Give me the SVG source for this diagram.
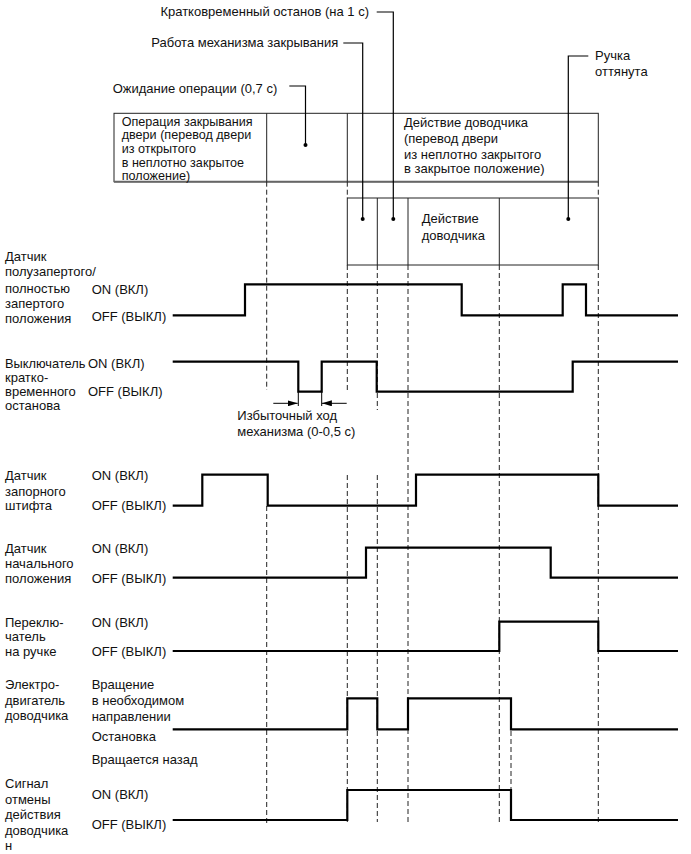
<svg xmlns="http://www.w3.org/2000/svg" width="691" height="854" viewBox="0 0 691 854">
<defs>
<style>
text{font-family:"Liberation Sans",Arial,sans-serif;font-size:13px;fill:#111}
.sm{font-size:12.6px}
.box{fill:none;stroke:#222;stroke-width:1}
.boxb{fill:none;stroke:#666;stroke-width:2}
.lead{fill:none;stroke:#000;stroke-width:1.2}
.dash{fill:none;stroke:#222;stroke-width:1;stroke-dasharray:5,3}
.wave{fill:none;stroke:#000;stroke-width:2.2}
.dim{fill:none;stroke:#000;stroke-width:1}
</style>
<marker id="ah" viewBox="0 0 10 6" refX="10" refY="3" markerWidth="10" markerHeight="6" markerUnits="userSpaceOnUse" orient="auto"><path d="M0,0 L10,3 L0,6 Z" fill="#000"/></marker>
</defs>
<rect width="691" height="854" fill="#fff"/>

<g id="top-box">
<rect class="box" x="114" y="113.3" width="484.3" height="68.4"/>
<line class="boxb" x1="114" y1="181.7" x2="598.3" y2="181.7"/>
<line class="box" x1="266.7" y1="113.3" x2="266.7" y2="181.7"/>
<line class="box" x1="347.3" y1="113.3" x2="347.3" y2="181.7"/>
<text class="sm" x="121.7" y="125.8">Операция закрывания</text>
<text class="sm" x="121.7" y="139.4">двери (перевод двери</text>
<text class="sm" x="121.7" y="153">из открытого</text>
<text class="sm" x="121.7" y="166.6">в неплотно закрытое</text>
<text class="sm" x="121.7" y="179.6">положение)</text>
<text x="404" y="127">Действие доводчика</text>
<text x="404" y="142.8">(перевод двери</text>
<text x="404" y="158.5">из неплотно закрытого</text>
<text x="404" y="173">в закрытое положение)</text>
</g>

<g id="lower-box">
<rect class="box" x="347.3" y="198" width="251" height="67"/>
<line class="box" x1="377.3" y1="198" x2="377.3" y2="265"/>
<line class="box" x1="408" y1="198" x2="408" y2="265"/>
<line class="box" x1="499.3" y1="198" x2="499.3" y2="265"/>
<text x="421.7" y="223">Действие</text>
<text x="421.7" y="239.5">доводчика</text>
</g>

<g id="callouts">
<text x="369" y="16.3" text-anchor="end">Кратковременный останов (на 1 с)</text>
<text x="338.3" y="47.2" text-anchor="end">Работа механизма закрывания</text>
<text x="112.7" y="92.8">Ожидание операции (0,7 с)</text>
<text x="595" y="59.5">Ручка</text>
<text x="595" y="76">оттянута</text>
</g>

<g id="connectors">
<path class="lead" d="M376.7,12 H393.3 V219"/>
<path class="lead" d="M343.3,43 H362.7 V219"/>
<path class="lead" d="M289.3,86 H305.5 V145"/>
<path class="lead" d="M588.3,56 H568.3 V219"/>
<circle cx="305.5" cy="145" r="2" fill="#000"/>
<circle cx="362.7" cy="219" r="2" fill="#000"/>
<circle cx="393.3" cy="219" r="2" fill="#000"/>
<circle cx="568.3" cy="219" r="2" fill="#000"/>
<path class="dash" d="M266.7,181.7 V390 M266.7,506 V823 M347.3,181.7 V198 M347.3,265 V390 M347.3,475 V822 M377.3,265 V410 M377.3,475 V822 M408,265 V822 M499.3,265 V822 M598.3,181.7 V198 M598.3,265 V822 M511,731 V790"/>
<path class="dim" d="M273.3,403.3 H297.7" marker-end="url(#ah)"/>
<path class="dim" d="M346.7,403.3 H321.9" marker-end="url(#ah)"/>
<path class="dim" d="M298.3,391.7 V406 M321.7,391.7 V406"/>
</g>

<g id="sig-half-full-lock">
<text x="5" y="261.2">Датчик</text>
<text x="5" y="276.2">полузапертого/</text>
<text x="5" y="293">полностью</text>
<text x="5" y="308.2">запертого</text>
<text x="5" y="322.8">положения</text>
<text x="91.7" y="293.5">ON (ВКЛ)</text>
<text x="91.7" y="320.5">OFF (ВЫКЛ)</text>
<path class="wave" d="M172.7,315.3 H245 V284.3 H461.7 V315.3 H562.7 V284.3 H586 V315.3 H678"/>
</g>

<g id="sig-short-stop">
<text x="5" y="367.8" textLength="80.5" lengthAdjust="spacingAndGlyphs">Выключатель</text>
<text x="5" y="381.5">кратко-</text>
<text x="5" y="395.5">временного</text>
<text x="5" y="409.5">останова</text>
<text x="88" y="367.8">ON (ВКЛ)</text>
<text x="88" y="395.5">OFF (ВЫКЛ)</text>
<path class="wave" d="M172.7,361.7 H298.3 V391.7 H321.7 V361.7 H376.7 V391.7 H572.7 V361.7 H678"/>
<text x="237.3" y="419.5">Избыточный ход</text>
<text x="237.3" y="436.2">механизма (0-0,5 с)</text>
</g>

<g id="sig-lock-pin">
<text x="5" y="479.5">Датчик</text>
<text x="5" y="495.5">запорного</text>
<text x="5" y="510.2">штифта</text>
<text x="91.7" y="479.5">ON (ВКЛ)</text>
<text x="91.7" y="510.2">OFF (ВЫКЛ)</text>
<path class="wave" d="M172.7,505.7 H202.3 V474.7 H267.7 V505.7 H416 V474.7 H598.3 V505.7 H678"/>
</g>

<g id="sig-home">
<text x="5" y="552.8">Датчик</text>
<text x="5" y="567.8">начального</text>
<text x="5" y="582.8">положения</text>
<text x="91.7" y="552.8">ON (ВКЛ)</text>
<text x="91.7" y="582.8">OFF (ВЫКЛ)</text>
<path class="wave" d="M172.7,577.7 H366 V547.7 H550.7 V577.7 H678"/>
</g>

<g id="sig-handle">
<text x="5" y="626.8">Переклю-</text>
<text x="5" y="641.2">чатель</text>
<text x="5" y="656.2">на ручке</text>
<text x="91.7" y="626.8">ON (ВКЛ)</text>
<text x="91.7" y="656.2">OFF (ВЫКЛ)</text>
<path class="wave" d="M172.7,651 H499.3 V621.7 H598.3 V651 H678"/>
</g>

<g id="sig-motor">
<text x="5" y="688.5">Электро-</text>
<text x="5" y="705.2">двигатель</text>
<text x="5" y="719.5">доводчика</text>
<text x="91.7" y="688.5">Вращение</text>
<text x="91.7" y="704.5">в необходимом</text>
<text x="91.7" y="720.5">направлении</text>
<text x="91.7" y="741.2">Остановка</text>
<text x="91.7" y="763.5">Вращается назад</text>
<path class="wave" d="M172.7,729.3 H347.3 V698.3 H377.3 V729.3 H408 V698.3 H511 V729.3 H678"/>
</g>

<g id="sig-cancel">
<text x="5" y="787.8">Сигнал</text>
<text x="5" y="803.8">отмены</text>
<text x="5" y="818.5">действия</text>
<text x="5" y="835.2">доводчика</text>
<text x="5" y="849.5">н</text>
<text x="91.7" y="798.8">ON (ВКЛ)</text>
<text x="91.7" y="828.5">OFF (ВЫКЛ)</text>
<path class="wave" d="M172.7,820 H347.3 V790 H511 V820 H678"/>
</g>
</svg>
